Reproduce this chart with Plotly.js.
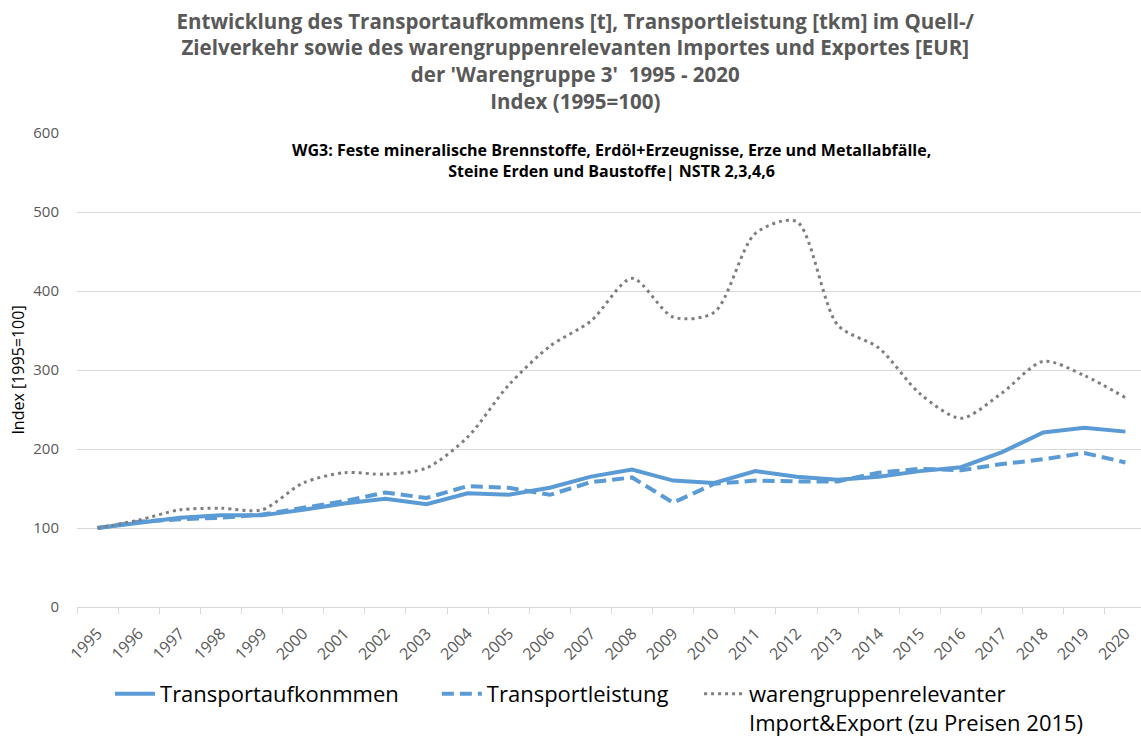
<!DOCTYPE html>
<html>
<head>
<meta charset="utf-8">
<script src="https://cdn.plot.ly/plotly-3.0.1.min.js"></script>
<style>html,body{margin:0;padding:0;overflow:hidden;background:#fff;}</style>
</head>
<body>
<div id="chart" style="width:1146px;height:737px;"></div>
<script>
const years = ["1995","1996","1997","1998","1999","2000","2001","2002","2003","2004","2005","2006","2007","2008","2009","2010","2011","2012","2013","2014","2015","2016","2017","2018","2019","2020"];
const transportaufkommen = [100,107,113,116,116,123,131,137,130,144,142,151,165,174,160,157,172,165,161,165,172,177,196,221,227,222];
const transportleistung = [100,108,111,113,117,126,134,145,138,153,151,142,158,164,132,156,160,159,159,170,175,173,181,187,195,183];
const importExport = [100,110,123,125,123,157,170,168,176,215,281,330,362,416,367,373,473,488,357,328,270,239,271,311,293,265];

const names = ["Transportaufkonmmen\u2003\u2002", "Transportleistung\u2003\u2009", "warengruppenrelevanter<br>Import&Export (zu Preisen 2015)"];

const FONT = "'Open Sans', Lato, sans-serif";

const traces = [
  {x: years, y: transportaufkommen, name: names[0], type: "scatter", mode: "lines",
   line: {color: "#5B9BD5", width: 4}},
  {x: years, y: transportleistung, name: names[1], type: "scatter", mode: "lines",
   line: {color: "#5B9BD5", width: 4, dash: "12px,6px"}},
  {x: years, y: importExport, name: names[2], type: "scatter", mode: "lines",
   line: {color: "#7F7F7F", width: 3, dash: "3px,4px", shape: "spline", smoothing: 0.8}}
];

const layout = {
  width: 1146, height: 737,
  margin: {l: 77, r: 0, t: 133, b: 130},
  paper_bgcolor: "#ffffff", plot_bgcolor: "#ffffff",
  font: {family: FONT, color: "#595959"},
  title: {
    text: "<b>Entwicklung des Transportaufkommens [t], Transportleistung [tkm] im Quell-/<br>Zielverkehr sowie des warengruppenrelevanten Importes und Exportes [EUR]<br>der 'Warengruppe 3'  1995 - 2020<br>Index (1995=100)</b>",
    font: {family: FONT, size: 20.5, color: "#595959"},
    x: 0.502, xref: "container", xanchor: "center",
    y: 0.961, yref: "container", yanchor: "top"
  },
  xaxis: {
    type: "category",
    range: [-0.5, 25.5],
    tickangle: -45,
    tickfont: {family: FONT, size: 16, color: "#595959"},
    ticks: "outside", tickson: "boundaries", ticklen: 6, tickcolor: "#D9D9D9",
    ticklabelstandoff: 10,
    showline: true, linecolor: "#D9D9D9", linewidth: 1,
    showgrid: false, zeroline: false, fixedrange: true, automargin: false
  },
  yaxis: {
    range: [0, 600], dtick: 100,
    tickfont: {family: FONT, size: 15, color: "#595959"},
    showgrid: true, gridcolor: "#D9D9D9", gridwidth: 1,
    zeroline: false, showline: false, ticks: "", ticklen: 0,
    ticklabelstandoff: 17,
    title: {text: "Index [1995=100]", font: {family: FONT, size: 16, color: "#000000"}, standoff: 4},
    fixedrange: true, automargin: false
  },
  legend: {
    orientation: "h",
    xref: "container", yref: "container",
    x: 0.096, xanchor: "left",
    y: 0.087, yanchor: "top",
    font: {family: FONT, size: 22, color: "#000000"},
    valign: "top",
    itemwidth: 40,
    traceorder: "normal"
  },
  annotations: [{
    text: "<b>WG3: Feste mineralische Brennstoffe, Erdöl+Erzeugnisse, Erze und Metallabfälle,<br>Steine Erden und Baustoffe| NSTR 2,3,4,6</b>",
    xref: "paper", yref: "paper", x: 0.5, y: 0.992, xanchor: "center", yanchor: "top",
    showarrow: false, align: "center",
    font: {family: FONT, size: 16, color: "#000000"}
  }],
  showlegend: true
};

Plotly.newPlot("chart", traces, layout, {displayModeBar: false, staticPlot: true});
</script>
</body>
</html>
